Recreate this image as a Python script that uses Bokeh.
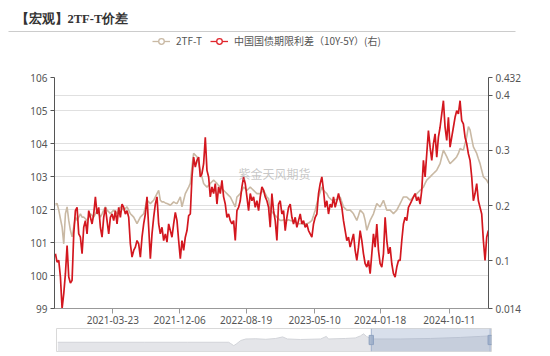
import pandas as pd
from bokeh.plotting import figure
from bokeh.models import (Range1d, LinearAxis, FixedTicker, DatetimeTickFormatter, Label,
                          BoxAnnotation, Legend, LegendItem, Grid)
from bokeh.layouts import column
from bokeh.embed import file_html
from bokeh.resources import INLINE

title_text = "【宏观】2TF-T价差"
series_names = ["2TF-T", "中国国债期限利差（10Y-5Y）(右)"]
watermark = "紫金天风期货"

dates = pd.date_range("2020-08-14", "2025-03-10", periods=261)

spread_2tf_t = [
    102.16, 102.18, 101.98, 101.72, 101.47, 100.96, 101.87, 102.08, 101.67, 101.37,
    101.17, 101.47, 101.77, 101.67, 101.77, 101.87, 101.77, 101.77, 101.72, 101.67,
    101.77, 101.87, 101.82, 101.77, 101.87, 101.98, 101.87, 101.77, 101.87, 101.98,
    102.08, 101.98, 101.93, 101.87, 101.93, 101.98, 101.93, 101.87, 101.98, 102.08,
    102.03, 101.98, 102.03, 102.08, 101.98, 101.87, 101.82, 101.77, 101.67, 101.57,
    101.67, 101.77, 101.82, 101.87, 102.08, 102.28, 102.23, 102.18, 102.23, 102.28,
    102.38, 102.48, 102.58, 102.28, 102.23, 102.23, 102.20, 102.18, 102.16, 102.13,
    102.18, 102.23, 102.20, 102.18, 102.28, 102.38, 102.08, 102.28, 102.48, 102.58,
    102.68, 102.79, 103.29, 103.70, 103.65, 103.60, 103.39, 103.19, 102.99, 102.79,
    102.73, 102.68, 102.73, 102.79, 102.84, 102.89, 102.84, 102.79, 102.73, 102.68,
    102.63, 102.58, 102.53, 102.48, 102.43, 102.38, 102.28, 102.18, 102.08, 102.38,
    102.43, 102.48, 102.58, 102.68, 102.63, 102.58, 102.63, 102.68, 102.63, 102.58,
    102.53, 102.48, 102.48, 102.48, 102.53, 102.58, 102.48, 102.38, 102.33,
    101.98, 101.93, 101.87, 101.82, 101.77, 101.72, 101.67, 101.67, 101.69, 101.67,
    101.67, 101.69, 101.67, 101.65, 101.67, 101.62, 101.59, 101.57, 101.57, 101.57,
    101.55, 101.57, 101.57, 101.59, 101.62, 101.67, 101.82, 101.98, 102.18, 102.38,
    102.53, 102.68, 102.58, 102.53, 102.48, 102.38, 102.33, 102.28, 102.28, 102.30,
    102.28, 102.33, 102.38, 102.23, 102.08, 102.03, 101.98, 101.98, 101.98, 101.93,
    101.87, 101.77, 101.67, 101.82, 101.98, 101.93, 101.87, 101.67, 101.37, 101.52,
    101.67, 101.77, 101.87, 102.03, 102.18, 102.13, 102.08, 102.18, 102.28, 102.13,
    101.98, 101.98, 101.98, 101.93, 101.87, 101.93, 101.98, 102.08, 102.18, 102.28,
    102.38, 102.38, 102.38, 102.33, 102.28, 102.33, 102.38, 102.43, 102.48, 102.53,
    102.58, 102.63, 102.68, 102.79, 102.89, 102.94, 102.99, 103.04, 103.09, 103.14,
    103.19, 103.29, 103.39, 103.60, 103.80, 103.70, 103.60, 103.49, 103.39, 103.44,
    103.49, 103.54, 103.60, 103.70, 103.85, 103.82, 103.80, 104.00, 104.20, 104.51,
    104.41, 104.15, 103.90, 103.80, 103.70, 103.54, 103.39, 103.19, 102.99, 102.94,
    102.89, 102.79,
]

term_spread = [
    0.113, 0.098, 0.101, 0.071, 0.014, 0.041, 0.077, 0.128, 0.071, 0.060,
    0.065, 0.149, 0.191, 0.197, 0.149, 0.143, 0.113, 0.161, 0.173, 0.149,
    0.191, 0.179, 0.167, 0.185, 0.216, 0.185, 0.197, 0.161, 0.143, 0.179,
    0.197, 0.173, 0.149, 0.179, 0.185, 0.173, 0.191, 0.167, 0.197, 0.179,
    0.203, 0.197, 0.185, 0.191, 0.179, 0.131, 0.107, 0.119, 0.125, 0.137,
    0.131, 0.107, 0.143, 0.167, 0.185, 0.216, 0.161, 0.104, 0.149, 0.179,
    0.203, 0.216, 0.167, 0.149, 0.161, 0.137, 0.149, 0.134, 0.167, 0.155,
    0.143, 0.167, 0.188, 0.173, 0.137, 0.104, 0.137, 0.119, 0.143, 0.155,
    0.182, 0.185, 0.252, 0.288, 0.270, 0.282, 0.288, 0.252, 0.258, 0.276,
    0.324, 0.264, 0.252, 0.216, 0.234, 0.222, 0.240, 0.203, 0.234, 0.222,
    0.246, 0.216, 0.203, 0.179, 0.185, 0.173, 0.167, 0.173, 0.137, 0.191,
    0.197, 0.209, 0.234, 0.252, 0.240, 0.216, 0.191, 0.222, 0.209, 0.216,
    0.197, 0.209, 0.191, 0.216, 0.234, 0.228, 0.216, 0.209, 0.197,
    0.161, 0.222, 0.191, 0.173, 0.137, 0.203, 0.209, 0.185, 0.191, 0.155,
    0.179, 0.197, 0.203, 0.179, 0.167, 0.179, 0.161, 0.173, 0.185, 0.167,
    0.173, 0.161, 0.167, 0.155, 0.149, 0.143, 0.167, 0.179, 0.185, 0.222,
    0.240, 0.252, 0.228, 0.197, 0.209, 0.185, 0.203, 0.197, 0.216, 0.197,
    0.209, 0.222, 0.209, 0.197, 0.173, 0.155, 0.137, 0.143, 0.125, 0.137,
    0.149, 0.119, 0.101, 0.125, 0.155, 0.137, 0.113, 0.095, 0.089, 0.101,
    0.077, 0.113, 0.149, 0.125, 0.167, 0.119, 0.095, 0.089, 0.113, 0.179,
    0.137, 0.113, 0.125, 0.095, 0.077, 0.071, 0.089, 0.101, 0.101, 0.137,
    0.167, 0.179, 0.173, 0.197, 0.203, 0.209, 0.216, 0.222, 0.209, 0.216,
    0.203, 0.228, 0.282, 0.252, 0.294, 0.336, 0.306, 0.282, 0.312, 0.330,
    0.288, 0.324, 0.342, 0.366, 0.390, 0.342, 0.318, 0.360, 0.306, 0.324,
    0.342, 0.360, 0.372, 0.366, 0.390, 0.354, 0.348, 0.324, 0.312, 0.294,
    0.282, 0.252, 0.209, 0.222, 0.240, 0.209, 0.197, 0.185, 0.137, 0.101,
    0.143, 0.155,
]

left_ticks = [99, 100, 101, 102, 103, 104, 105, 106]
right_ticks = [0.014, 0.1, 0.2, 0.3, 0.4, 0.432]
right_labels = ["0.014", "0.1", "0.2", "0.3", "0.4", "0.432"]
date_ticks = ["2021-03-23", "2021-12-06", "2022-08-19", "2023-05-10", "2024-01-18", "2024-10-11"]

slider_pos = [0, 10, 20, 30, 39.5, 40.0, 40.7, 41.4, 42.3, 43.5, 45.8, 48.1, 50.4, 52.0, 53.1,
              56.1, 60.8, 62.1, 62.6, 66.5, 68.8, 70.0, 70.7, 71.4, 72.5, 79.2, 86.2, 93.1, 97.7, 100]
slider_height = [9.0, 9.0, 9.0, 9.0, 9.0, 7.7, 5.7, 7.7, 10.7, 12.2, 12.4, 11.9, 12.7, 14.2, 12.2,
                 11.7, 12.2, 14.7, 12.2, 12.7, 13.2, 15.2, 17.2, 14.7, 12.2, 12.2, 12.7, 13.7, 14.7, 15.2]
slider_window = [72.5, 100]

GRAY = "#c9b9a4"
RED = "#d3171f"
LABEL_FONT = "Noto Sans"
CJK_FONT = "Noto Sans CJK SC"

# ---------- header: title, separator, legend ----------
ph = figure(width=550, height=70, output_backend="svg", toolbar_location=None,
            x_range=Range1d(0, 550), y_range=Range1d(70, 0), frame_align=False,
            min_border_left=0, min_border_right=0, min_border_top=0, min_border_bottom=0)
ph.axis.visible = False
ph.grid.visible = False
ph.outline_line_color = None
ph.background_fill_color = "white"
ph.border_fill_color = "white"
ph.add_layout(Label(x=15, y=18, text=title_text,
                    text_font="Liberation Serif", text_font_style="bold", text_font_size="12.5px",
                    text_color="#333333", text_baseline="middle"))
ph.add_layout(BoxAnnotation(left=8, right=515, top=30.5, bottom=31.5,
                            fill_color="#cccccc", fill_alpha=1, line_color=None))
# legend proxies (placed outside the visible range; only their legend glyphs show)
px, py = [-100, -90], [-50, -50]
hgl = ph.line(x=px, y=py, line_color=GRAY, line_width=1.3)
hgm = ph.scatter(x=px, y=py, marker="circle", size=11, fill_color="white", line_color=GRAY,
                 line_width=1.3)
hrl = ph.line(x=px, y=py, line_color="#e0252c", line_width=1.3)
hrm = ph.scatter(x=px, y=py, marker="circle", size=11, fill_color="white", line_color="#e0252c",
                 line_width=1.3)
legend = Legend(items=[LegendItem(label=series_names[0], renderers=[hgl, hgm], index=0),
                       LegendItem(label=series_names[1], renderers=[hrl, hrm], index=0)],
                orientation="horizontal", location=(152, 22),
                glyph_width=18, glyph_height=14, label_height=14, label_standoff=6, spacing=8,
                padding=0, margin=0, border_line_color=None, background_fill_alpha=0,
                label_text_font_size="10px", label_text_color="#555555", label_text_font=CJK_FONT)
ph.add_layout(legend)

# ---------- main chart ----------
p = figure(width=550, height=258, x_axis_type="datetime", output_backend="svg",
           toolbar_location=None, frame_align=False,
           x_range=Range1d(pd.Timestamp("2020-08-10 10:00"), pd.Timestamp("2025-03-10 12:00")),
           y_range=Range1d(99, 106),
           min_border_left=54, min_border_right=62, min_border_top=7, min_border_bottom=20)
p.outline_line_color = None
p.background_fill_color = "white"
p.border_fill_color = "white"
p.extra_y_ranges = {"right": Range1d(0.014, 0.432)}

p.xgrid.visible = False
p.ygrid.ticker = FixedTicker(ticks=left_ticks)
p.ygrid.grid_line_color = "#e0e0e0"
g2 = Grid(dimension=1, ticker=FixedTicker(ticks=right_ticks[1:-1]), y_range_name="right",
          grid_line_color="#e0e0e0")
p.add_layout(g2)

ly = p.yaxis[0]
ly.ticker = FixedTicker(ticks=left_ticks)
ry = LinearAxis(y_range_name="right", ticker=FixedTicker(ticks=right_ticks),
                major_label_overrides={t: s for t, s in zip(right_ticks, right_labels)})
p.add_layout(ry, "right")
for ax in (ly, ry):
    ax.axis_line_color = "#555555"
    ax.major_tick_line_color = "#555555"
    ax.major_tick_out = 4
    ax.major_tick_in = 0
    ax.minor_tick_line_color = None
    ax.major_label_text_color = "#555555"
    ax.major_label_text_font = LABEL_FONT
    ax.major_label_text_font_size = "10px"
    ax.major_label_standoff = 3

xa = p.xaxis[0]
xa.ticker = FixedTicker(ticks=[pd.Timestamp(d).value // 10**6 for d in date_ticks])
fmt = "%Y-%m-%d"
xa.formatter = DatetimeTickFormatter(milliseconds=fmt, seconds=fmt, minsec=fmt, minutes=fmt,
                                     hourmin=fmt, hours=fmt, days=fmt, months=fmt, years=fmt)
xa.axis_line_color = "#999999"
xa.major_tick_line_color = "#999999"
xa.major_tick_out = 5
xa.major_tick_in = 0
xa.minor_tick_line_color = None
xa.major_label_text_color = "#555555"
xa.major_label_text_font = LABEL_FONT
xa.major_label_text_font_size = "10px"
xa.major_label_standoff = 2

p.line(dates, spread_2tf_t, line_color=GRAY, line_width=1.6)
p.line(dates, term_spread, line_color=RED, line_width=1.7, y_range_name="right")

p.add_layout(Label(x=220, y=135, x_units="screen", y_units="screen", text=watermark,
                   text_font=CJK_FONT, text_font_size="12px", text_color="#999999",
                   text_alpha=0.55, text_align="center", text_baseline="middle"))

# ---------- data zoom slider ----------
p2 = figure(width=550, height=28, output_backend="svg", toolbar_location=None, frame_align=False,
            x_range=Range1d(-0.3, 100.3), y_range=Range1d(0, 22.4),
            min_border_left=56, min_border_right=59, min_border_top=0, min_border_bottom=5)
p2.axis.visible = False
p2.grid.visible = False
p2.outline_line_color = "#d9d9d9"
p2.background_fill_color = "white"
p2.border_fill_color = "white"
p2.varea(x=slider_pos, y1=0, y2=slider_height, fill_color="#e4e5e9")
p2.line(slider_pos, slider_height, line_color="#d2d4d9", line_width=1)
p2.add_layout(BoxAnnotation(left=slider_window[0], right=slider_window[1],
                            fill_color="#8ea3c6", fill_alpha=0.35, line_color=None))
p2.segment(x0=slider_window, y0=[0, 0], x1=slider_window, y1=[22.4, 22.4],
           line_color="#a6b6cf", line_width=1)
p2.rect(x=slider_window, y=[11.2, 11.2], width=1.0, height=9, fill_color="#a9b8ce",
        line_color="#8fa2bf", line_width=1)

layout = column(ph, p, p2, spacing=0)
open("out.html", "w").write(file_html(layout, INLINE))
